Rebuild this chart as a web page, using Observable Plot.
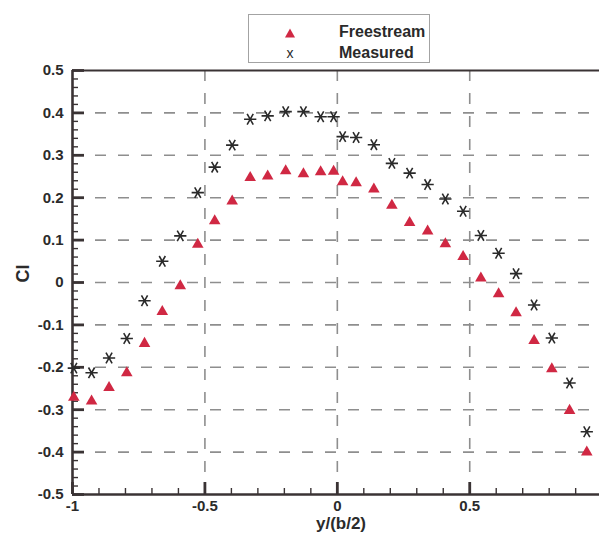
<!DOCTYPE html>
<html>
<head>
<meta charset="utf-8">
<script src="https://cdn.jsdelivr.net/npm/d3@7"></script>
<script src="https://cdn.jsdelivr.net/npm/@observablehq/plot@0.6"></script>
<style>
  html, body { margin: 0; padding: 0; background: #fff; }
  #wrap { position: relative; width: 599px; height: 538px; overflow: hidden; }
  .legend { position: absolute; left: 248px; top: 14px; width: 180px; height: 47px;
            border: 1.5px solid #a3a3a3; background: #fff;
            font-family: "Liberation Sans", Arial, sans-serif; color: #2a2a2a; }
  .legend .row { position: absolute; left: 0; width: 100%; height: 20px; }
  .legend .sym { position: absolute; left: 33px; width: 16px; height: 20px; text-align: center; line-height: 20px; }
  .legend .lab { position: absolute; left: 90px; font-weight: bold; font-size: 16px; line-height: 20px; }
</style>
</head>
<body>
<div id="wrap">
  <div id="chart"></div>
  <div class="legend">
    <div class="row" style="top:7px">
      <span class="sym"><svg width="12" height="12" viewBox="0 0 12 12" style="vertical-align:middle"><polygon points="6,1.5 11,10.5 1,10.5" fill="#d02843"/></svg></span>
      <span class="lab">Freestream</span>
    </div>
    <div class="row" style="top:28px">
      <span class="sym" style="font-size:14px">x</span>
      <span class="lab">Measured</span>
    </div>
  </div>
</div>
<script>
// spanwise stations y/(b/2)
const stations = [-0.995, -0.928, -0.862, -0.795, -0.728, -0.661, -0.593, -0.527, -0.463, -0.397,
  -0.329, -0.263, -0.195, -0.128, -0.063, -0.014, 0.020, 0.071, 0.138, 0.206,
  0.273, 0.341, 0.408, 0.475, 0.542, 0.609, 0.675, 0.743, 0.810, 0.877, 0.942];
// Cl values
const freestream = [-0.271, -0.280, -0.248, -0.213, -0.144, -0.069, -0.008, 0.090, 0.145, 0.192,
  0.247, 0.251, 0.263, 0.256, 0.261, 0.262, 0.237, 0.235, 0.220, 0.182,
  0.141, 0.121, 0.091, 0.061, 0.010, -0.027, -0.072, -0.137, -0.204, -0.302, -0.400];
const measured = [-0.202, -0.213, -0.178, -0.132, -0.043, 0.050, 0.110, 0.212, 0.272, 0.324,
  0.385, 0.393, 0.403, 0.403, 0.391, 0.391, 0.344, 0.342, 0.325, 0.281,
  0.258, 0.231, 0.197, 0.168, 0.111, 0.069, 0.021, -0.053, -0.131, -0.237, -0.352];
// axis ticks
const xTickLabels = [-1, -0.5, 0, 0.5];
const yTickLabels = [-0.5, -0.4, -0.3, -0.2, -0.1, 0, 0.1, 0.2, 0.3, 0.4, 0.5];
const xGridValues = [-0.5, 0, 0.5];
const yGridValues = [-0.4, -0.3, -0.2, -0.1, 0, 0.1, 0.2, 0.3, 0.4];
const xMinorTicks = [-0.9, -0.8, -0.7, -0.6, -0.4, -0.3, -0.2, -0.1, 0.1, 0.2, 0.3, 0.4, 0.6, 0.7, 0.8, 0.9];
const yMinorTicks = d3.range(-50, 51, 2).filter(v => v % 10 !== 0).map(v => v / 100);

const fsData = stations.map((x, i) => ({x, cl: freestream[i]}));
const msData = stations.map((x, i) => ({x, cl: measured[i]}));

const W = 599, H = 538, ML = 72, MR = 0, MT = 70, MB = 44;
const frameW = W - ML - MR, frameH = H - MT - MB;
const majorLen = 12, minorLen = 6;

const axisColor = "#3a3334";
const gridStyle = {stroke: "#8e8e8e", strokeOpacity: 1, strokeWidth: 1.6, strokeDasharray: "11,12"};
const fmt = d => String(d);

const chart = Plot.plot({
  width: W,
  height: H,
  marginLeft: ML,
  marginRight: MR,
  marginTop: MT,
  marginBottom: MB,
  x: {domain: [-1, 0.99]},
  y: {domain: [-0.5, 0.5]},
  style: {fontFamily: "'Liberation Sans', Arial, sans-serif", fontSize: "15px", fontWeight: "bold", background: "white", color: "#2b2b2b", overflow: "visible"},
  marks: [
    Plot.gridX(xGridValues, gridStyle),
    Plot.gridY(yGridValues, gridStyle),
    // minor ticks (inward)
    Plot.ruleX(xMinorTicks, {x: d => d, insetTop: frameH - minorLen, stroke: axisColor, strokeWidth: 1.4}),
    Plot.ruleY(yMinorTicks, {y: d => d, insetRight: frameW - minorLen, stroke: axisColor, strokeWidth: 1.4}),
    // major ticks (inward)
    Plot.ruleX(xTickLabels, {x: d => d, insetTop: frameH - majorLen, stroke: axisColor, strokeWidth: 2.8}),
    Plot.ruleY(yTickLabels, {y: d => d, insetRight: frameW - majorLen, stroke: axisColor, strokeWidth: 2.8}),
    // tick labels
    Plot.axisX({ticks: xTickLabels, tickSize: 0, tickPadding: 6, tickFormat: fmt, label: null}),
    Plot.axisY({ticks: yTickLabels, tickSize: 0, tickPadding: 9, tickFormat: fmt, label: null}),
    // frame
    Plot.ruleX([-1], {stroke: axisColor, strokeWidth: 2.6}),
    Plot.ruleY([-0.5], {stroke: axisColor, strokeWidth: 2.6}),
    Plot.ruleY([0.5], {stroke: axisColor, strokeWidth: 2}),
    // axis titles
    Plot.text(["y/(b/2)"], {text: d => d, frameAnchor: "bottom", dy: 34, dx: 5, fontSize: 17, fill: "#2b2b2b"}),
    Plot.text(["Cl"], {text: d => d, frameAnchor: "left", dx: -49, rotate: -90, fontSize: 18, fill: "#2b2b2b"}),
    // data
    Plot.dot(fsData, {x: "x", y: "cl", symbol: "triangle", fill: "#d02843", r: 4.3}),
    Plot.dot(msData, {x: "x", y: "cl", symbol: "asterisk", stroke: "#2a2a2a", strokeWidth: 1.6, r: 5.8, rotate: 90})
  ]
});
document.getElementById("chart").appendChild(chart);
</script>
</body>
</html>
